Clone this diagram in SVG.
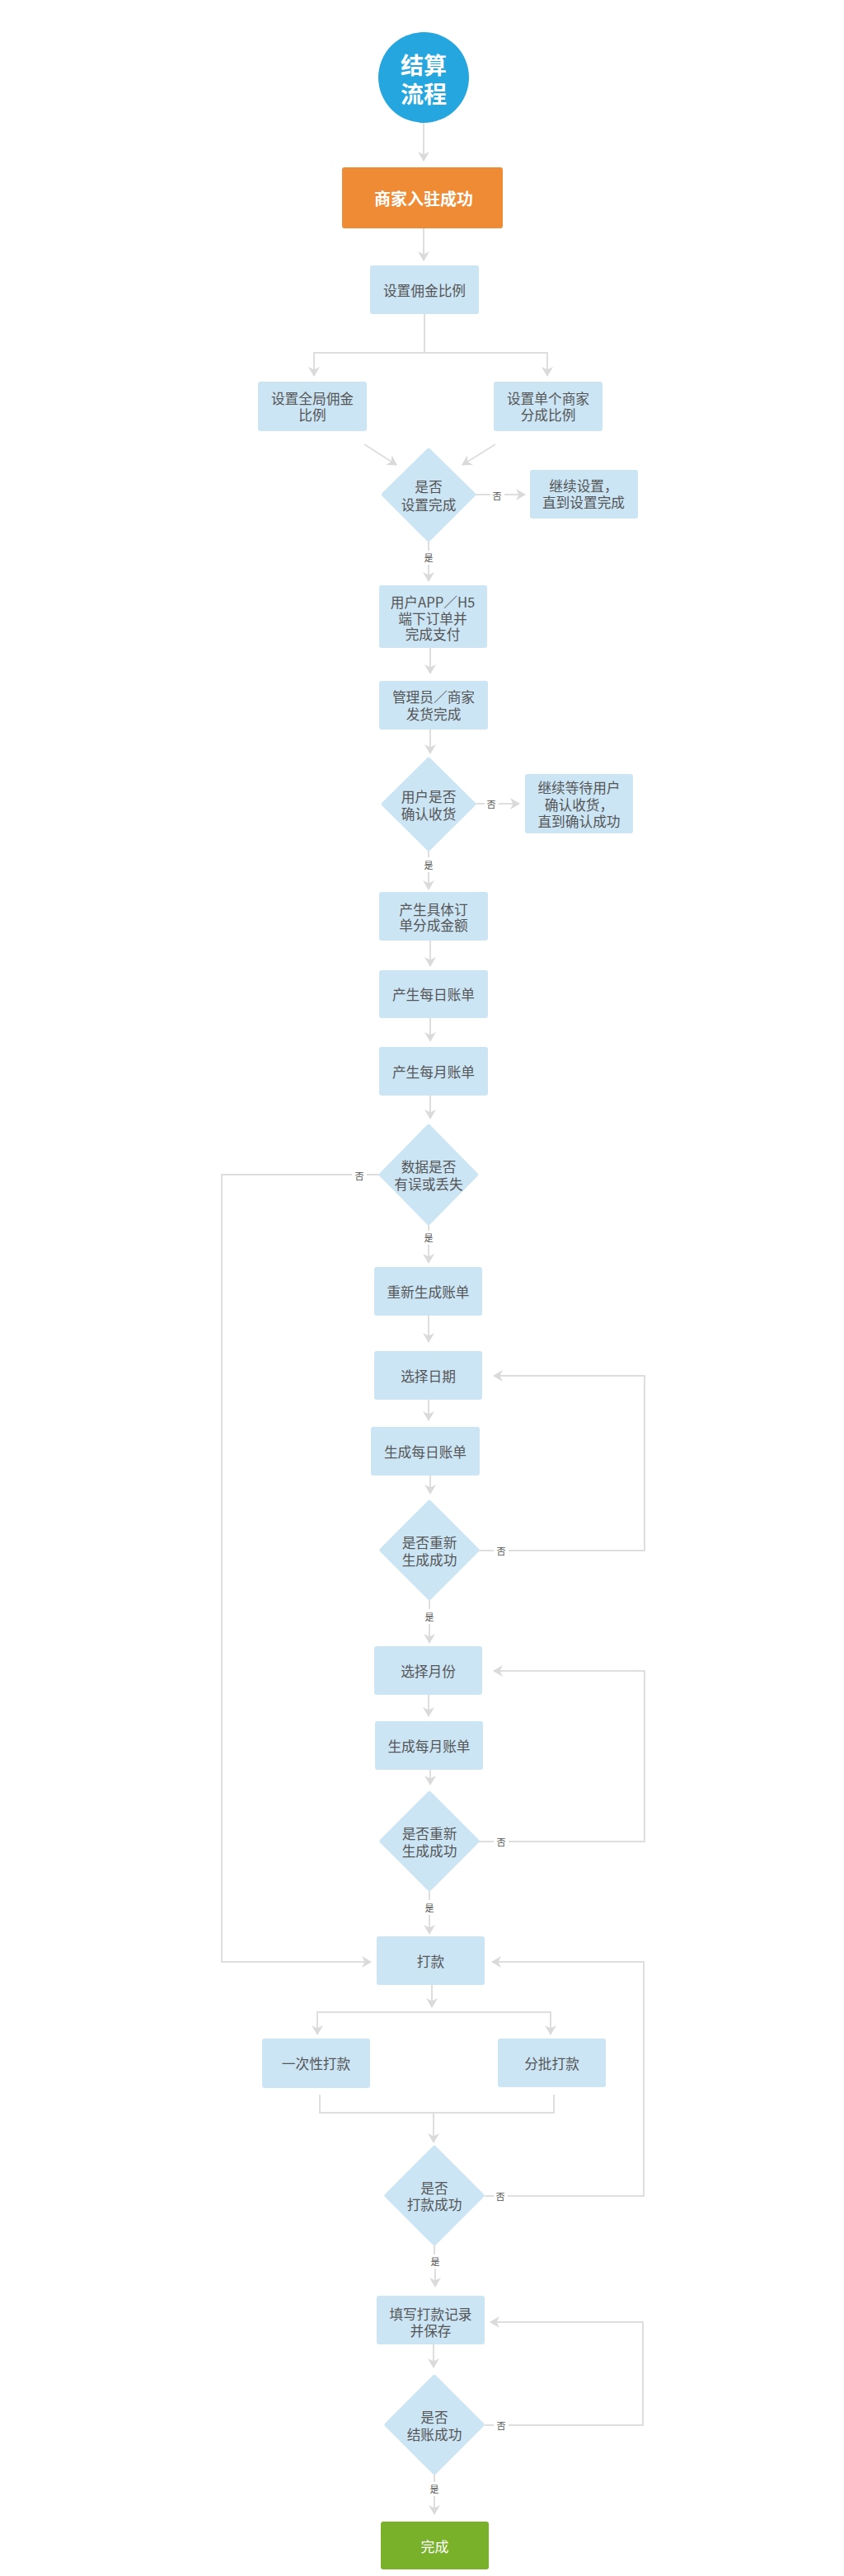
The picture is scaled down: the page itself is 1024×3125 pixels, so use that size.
<svg xmlns="http://www.w3.org/2000/svg" width="1024" height="3125" viewBox="0 0 1024 3125">
<defs>
<style>
.box{fill:#cbe5f5;}
.dia{fill:#cbe5f5;stroke:#cbe5f5;stroke-width:6;stroke-linejoin:round;}
.t{font-family:"Noto Sans CJK SC","Noto Sans",sans-serif;font-size:16.7px;fill:#555555;text-anchor:middle;dominant-baseline:central;}
.w{font-family:"Noto Sans CJK SC","Noto Sans",sans-serif;fill:#ffffff;text-anchor:middle;dominant-baseline:central;}
.lbl{font-family:"Noto Sans CJK SC","Noto Sans",sans-serif;font-size:11px;fill:#555555;text-anchor:middle;dominant-baseline:central;}
.ln{fill:none;stroke:#dedede;stroke-width:2;}
.ar{marker-end:url(#arr);}
</style>
<marker id="arr" viewBox="0 0 12 14" markerWidth="12" markerHeight="14" refX="11" refY="7" orient="auto" markerUnits="userSpaceOnUse">
<path d="M0,0 L12,7 L0,14 L3.5,7 Z" fill="#dadada"/>
</marker>
</defs>
<rect x="0" y="0" width="1024" height="3125" fill="#ffffff"/>

<g id="connectors">
<path class="ln ar" d="M514,149 V195"/>
<path class="ln ar" d="M514,277 V316"/>
<path class="ln ar" d="M515,381 V428 H381 V456"/>
<path class="ln ar" d="M515,428 H664 V456"/>
<path class="ln ar" d="M442,539 L481,564"/>
<path class="ln ar" d="M601,539 L561,564"/>
<path class="ln" d="M577,600 H595"/>
<path class="ln ar" d="M612,600 H637"/>
<path class="ln" d="M520,657 V668"/>
<path class="ln ar" d="M520,685 V705"/>
<path class="ln ar" d="M522,786 V817"/>
<path class="ln ar" d="M522,885 V914"/>
<path class="ln" d="M577,975 H588"/>
<path class="ln ar" d="M605,975 H630"/>
<path class="ln" d="M520,1032 V1040"/>
<path class="ln ar" d="M520,1058 V1079"/>
<path class="ln ar" d="M522,1141 V1172"/>
<path class="ln ar" d="M522,1235 V1263"/>
<path class="ln ar" d="M522,1329 V1357"/>
<path class="ln" d="M460,1425 H445"/>
<path class="ln ar" d="M427,1425 H269 V2380 H450"/>
<path class="ln" d="M520,1486 V1493"/>
<path class="ln ar" d="M520,1510 V1532"/>
<path class="ln ar" d="M520,1596 V1628"/>
<path class="ln ar" d="M520,1698 V1723"/>
<path class="ln ar" d="M522,1790 V1812"/>
<path class="ln" d="M581,1881 H599"/>
<path class="ln ar" d="M617,1881 H782 V1669 H599"/>
<path class="ln" d="M521,1941 V1952"/>
<path class="ln ar" d="M521,1970 V1993"/>
<path class="ln ar" d="M520,2056 V2082"/>
<path class="ln ar" d="M522,2147 V2165"/>
<path class="ln" d="M581,2234 H599"/>
<path class="ln ar" d="M617,2234 H782 V2027 H599"/>
<path class="ln" d="M521,2294 V2305"/>
<path class="ln ar" d="M521,2323 V2346"/>
<path class="ln ar" d="M524,2408 V2435"/>
<path class="ln ar" d="M524,2441 H385 V2468"/>
<path class="ln ar" d="M524,2441 H668 V2468"/>
<path class="ln" d="M388,2541 V2563 H672 V2541"/>
<path class="ln ar" d="M526,2563 V2599"/>
<path class="ln" d="M588,2664 H599"/>
<path class="ln ar" d="M616,2664 H781 V2380 H597"/>
<path class="ln" d="M527,2724 V2735"/>
<path class="ln ar" d="M528,2752 V2774"/>
<path class="ln ar" d="M526,2844 V2872"/>
<path class="ln" d="M588,2942 H599"/>
<path class="ln ar" d="M617,2942 H780 V2817 H595"/>
<path class="ln" d="M527,3002 V3011"/>
<path class="ln ar" d="M527,3028 V3050"/>
<text class="lbl" x="603" y="601">否</text>
<text class="lbl" x="520" y="676">是</text>
<text class="lbl" x="596" y="975">否</text>
<text class="lbl" x="520" y="1049">是</text>
<text class="lbl" x="436" y="1426">否</text>
<text class="lbl" x="520" y="1501">是</text>
<text class="lbl" x="608" y="1881">否</text>
<text class="lbl" x="521" y="1961">是</text>
<text class="lbl" x="608" y="2234">否</text>
<text class="lbl" x="521" y="2314">是</text>
<text class="lbl" x="607" y="2664">否</text>
<text class="lbl" x="528" y="2743">是</text>
<text class="lbl" x="608" y="2942">否</text>
<text class="lbl" x="527" y="3019">是</text>
</g>

<g id="start">
<circle cx="514" cy="94" r="55" fill="#25a6df"/>
<text class="w" x="514" y="78" font-size="28" font-weight="bold">结算</text>
<text class="w" x="514" y="113" font-size="28" font-weight="bold">流程</text>
</g>
<g id="n-settle">
<rect x="415" y="203" width="195" height="74" rx="3" fill="#ee8b34"/>
<text class="w" x="514" y="240" font-size="20" font-weight="bold">商家入驻成功</text>
</g>
<g id="n-ratio">
<rect class="box" x="449" y="322" width="132" height="59" rx="3"/>
<text class="t" x="515" y="351.5">设置佣金比例</text>
</g>
<g id="n-global">
<rect class="box" x="313" y="463" width="132" height="60" rx="3"/>
<text class="t" x="379" y="483">设置全局佣金</text>
<text class="t" x="379" y="503">比例</text>
</g>
<g id="n-single">
<rect class="box" x="599" y="463" width="132" height="60" rx="3"/>
<text class="t" x="665" y="483">设置单个商家</text>
<text class="t" x="665" y="503">分成比例</text>
</g>
<g id="d-setdone">
<polygon class="dia" points="520,547 574,600 520,654 466,600"/>
<text class="t" x="520" y="590">是否</text>
<text class="t" x="520" y="612">设置完成</text>
</g>
<g id="n-continue">
<rect class="box" x="643" y="570" width="131" height="59" rx="3"/>
<text class="t" x="708" y="589">继续设置，</text>
<text class="t" x="708" y="609">直到设置完成</text>
</g>
<g id="n-order">
<rect class="box" x="460" y="710" width="131" height="76" rx="3"/>
<text class="t" x="525" y="730">用户APP／H5</text>
<text class="t" x="525" y="749.5">端下订单并</text>
<text class="t" x="525" y="769">完成支付</text>
</g>
<g id="n-ship">
<rect class="box" x="460" y="826" width="132" height="59" rx="3"/>
<text class="t" x="526" y="845">管理员／商家</text>
<text class="t" x="526" y="866">发货完成</text>
</g>
<g id="d-receive">
<polygon class="dia" points="520,922 574,975.5 520,1029 466,975.5"/>
<text class="t" x="520" y="966">用户是否</text>
<text class="t" x="520" y="987">确认收货</text>
</g>
<g id="n-wait">
<rect class="box" x="637" y="939" width="131" height="72" rx="3"/>
<text class="t" x="702.5" y="955">继续等待用户</text>
<text class="t" x="702.5" y="975.5">确认收货，</text>
<text class="t" x="702.5" y="996">直到确认成功</text>
</g>
<g id="n-split">
<rect class="box" x="460" y="1082" width="132" height="59" rx="3"/>
<text class="t" x="526" y="1103">产生具体订</text>
<text class="t" x="526" y="1122">单分成金额</text>
</g>
<g id="n-daily">
<rect class="box" x="460" y="1177" width="132" height="58" rx="3"/>
<text class="t" x="526" y="1206">产生每日账单</text>
</g>
<g id="n-monthly">
<rect class="box" x="460" y="1270" width="132" height="59" rx="3"/>
<text class="t" x="526" y="1299.5">产生每月账单</text>
</g>
<g id="d-data">
<polygon class="dia" points="520,1367 577,1425 520,1483 463,1425"/>
<text class="t" x="520" y="1415">数据是否</text>
<text class="t" x="520" y="1436">有误或丢失</text>
</g>
<g id="n-regen">
<rect class="box" x="454" y="1537" width="131" height="59" rx="3"/>
<text class="t" x="519.5" y="1566.5">重新生成账单</text>
</g>
<g id="n-date">
<rect class="box" x="454" y="1639" width="131" height="59" rx="3"/>
<text class="t" x="519.5" y="1668.5">选择日期</text>
</g>
<g id="n-gendaily">
<rect class="box" x="450" y="1731" width="132" height="59" rx="3"/>
<text class="t" x="516" y="1760.5">生成每日账单</text>
</g>
<g id="d-daily-ok">
<polygon class="dia" points="521,1823 578.5,1880.5 521,1938 463.5,1880.5"/>
<text class="t" x="521" y="1871">是否重新</text>
<text class="t" x="521" y="1892">生成成功</text>
</g>
<g id="n-month">
<rect class="box" x="454" y="1997" width="131" height="59" rx="3"/>
<text class="t" x="519.5" y="2026.5">选择月份</text>
</g>
<g id="n-genmonthly">
<rect class="box" x="455" y="2088" width="131" height="59" rx="3"/>
<text class="t" x="520.5" y="2117.5">生成每月账单</text>
</g>
<g id="d-monthly-ok">
<polygon class="dia" points="521,2176 578.5,2233.5 521,2291 463.5,2233.5"/>
<text class="t" x="521" y="2224">是否重新</text>
<text class="t" x="521" y="2245">生成成功</text>
</g>
<g id="n-pay">
<rect class="box" x="457" y="2349" width="131" height="59" rx="3"/>
<text class="t" x="522.5" y="2378.5">打款</text>
</g>
<g id="n-once">
<rect class="box" x="318" y="2473" width="131" height="60" rx="3"/>
<text class="t" x="383.5" y="2503">一次性打款</text>
</g>
<g id="n-batch">
<rect class="box" x="604" y="2473" width="131" height="59" rx="3"/>
<text class="t" x="669.5" y="2502.5">分批打款</text>
</g>
<g id="d-pay-ok">
<polygon class="dia" points="527,2606 584.5,2663.5 527,2721 469.5,2663.5"/>
<text class="t" x="527" y="2654">是否</text>
<text class="t" x="527" y="2674">打款成功</text>
</g>
<g id="n-record">
<rect class="box" x="457" y="2785" width="131" height="59" rx="3"/>
<text class="t" x="522.5" y="2807">填写打款记录</text>
<text class="t" x="522.5" y="2827">并保存</text>
</g>
<g id="d-settle-ok">
<polygon class="dia" points="527,2884 584.5,2941.5 527,2999 469.5,2941.5"/>
<text class="t" x="527" y="2932">是否</text>
<text class="t" x="527" y="2953">结账成功</text>
</g>
<g id="end">
<rect x="462" y="3059" width="131" height="58" rx="3" fill="#79b12b"/>
<text class="w" x="527.5" y="3088" font-size="17">完成</text>
</g>
</svg>
